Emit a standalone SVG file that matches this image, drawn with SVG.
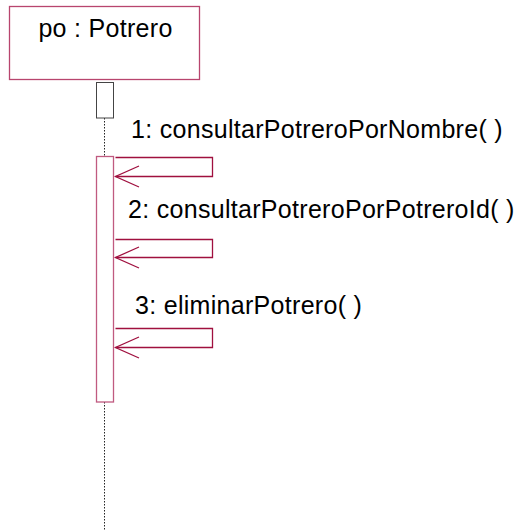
<svg xmlns="http://www.w3.org/2000/svg" width="518" height="530" viewBox="0 0 518 530">
<style>
  .lbl { font-family: "Liberation Sans", Arial, sans-serif; font-size: 25px; letter-spacing: 0.3px; fill: #000; }
  .obj { fill: #fff; stroke: #B8456E; stroke-width: 1.3; }
  .act { fill: #fff; stroke: #C05A80; stroke-width: 1.3; }
  .msg { fill: none; stroke: #A0103F; stroke-width: 1.3; }
  .life { stroke: #222; stroke-width: 1; stroke-dasharray: 1.5 1.5; fill: none; }
</style>
<rect width="518" height="530" fill="#fff"/>
<g id="po">
  <rect class="obj" x="9.5" y="6.5" width="190" height="73"/>
  <text class="lbl" x="105.5" y="36.5" text-anchor="middle">po : Potrero</text>
</g>
<g id="lifeline">
  <line class="life" x1="104.5" y1="118" x2="104.5" y2="156"/>
  <line class="life" x1="104.5" y1="402" x2="104.5" y2="530"/>
  <rect x="96.5" y="82.5" width="17" height="35.5" fill="#fff" stroke="#444" stroke-width="1"/>
</g>
<g id="activation">
  <rect class="act" x="96.5" y="156.5" width="17" height="245.5"/>
</g>
<g id="connectors">
  <polyline class="msg" points="115.5,157.5 212.5,157.5 212.5,176.5 115.5,176.5"/>
  <polyline class="msg" points="139,166 115.5,176.5 139,187"/>
  <polyline class="msg" points="115.5,239.5 212.5,239.5 212.5,257.5 115.5,257.5"/>
  <polyline class="msg" points="139,247 115.5,257.5 139,268"/>
  <polyline class="msg" points="115.5,328.5 212.5,328.5 212.5,347.5 115.5,347.5"/>
  <polyline class="msg" points="139,337 115.5,347.5 139,358"/>
</g>
<g id="labels">
  <text class="lbl" x="131" y="137.5">1: consultarPotreroPorNombre( )</text>
  <text class="lbl" x="128" y="217.5">2: consultarPotreroPorPotreroId( )</text>
  <text class="lbl" x="135" y="314">3: eliminarPotrero( )</text>
</g>
</svg>
